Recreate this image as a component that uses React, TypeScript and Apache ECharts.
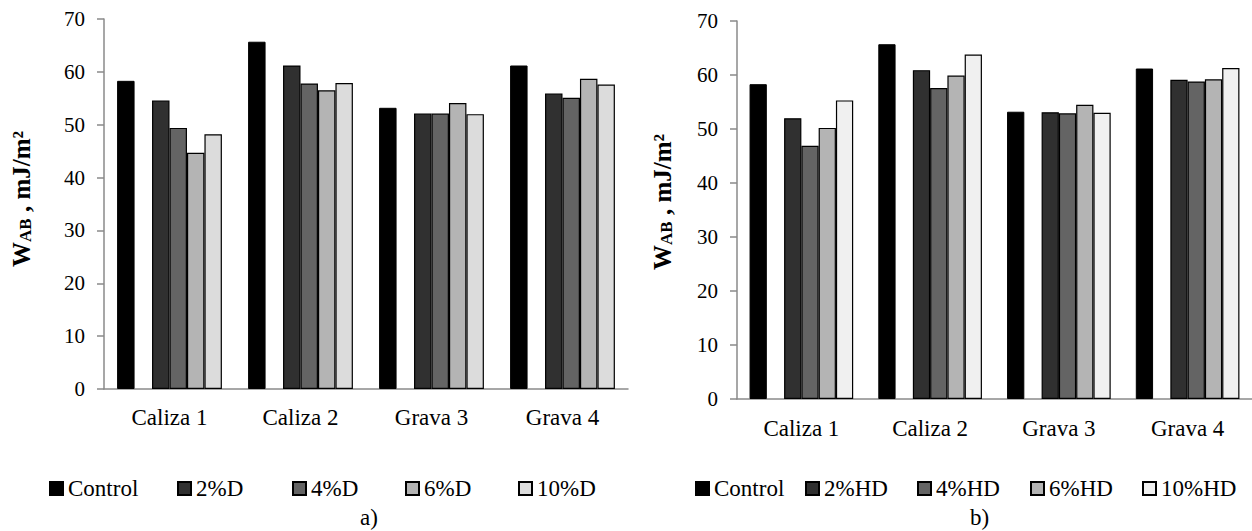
import React, { useEffect, useRef } from "react";
import * as echarts from "echarts";

const categories = ["Caliza 1", "Caliza 2", "Grava 3", "Grava 4"];
const control = [58.3, 65.7, 53.2, 61.2];

const namesA = ["2%D", "4%D", "6%D", "10%D"];
const d2 = [54.6, 61.2, 52.1, 55.9];
const d4 = [49.4, 57.8, 52.1, 55.1];
const d6 = [44.7, 56.5, 54.1, 58.7];
const d10 = [48.2, 57.9, 52.0, 57.6];

const namesB = ["2%HD", "4%HD", "6%HD", "10%HD"];
const hd2 = [52.0, 60.9, 53.1, 59.1];
const hd4 = [46.9, 57.6, 52.9, 58.8];
const hd6 = [50.2, 59.9, 54.5, 59.2];
const hd10 = [55.3, 63.8, 53.0, 61.3];

const yTicks = [0, 10, 20, 30, 40, 50, 60, 70];

const colorsA = ["#000000", "#303030", "#646464", "#b4b4b4", "#dcdcdc"];
const colorsB = ["#000000", "#303030", "#646464", "#b4b4b4", "#f0f0f0"];

const FONT = "Liberation Serif";

export default function App() {
  const ref = useRef<HTMLDivElement>(null);
  useEffect(() => {
    if (!ref.current) return;
    const chart = echarts.init(ref.current, undefined, { renderer: "svg" });

    const axisGray = "#8a8a8a";
    const mkX = (gi: number) => ({
      type: "category",
      gridIndex: gi,
      data: categories,
      axisTick: { show: false },
      axisLine: { lineStyle: { color: axisGray, width: 1.5 } },
      axisLabel: {
        formatter: (v: string) => `{t|${v}}`,
        rich: { t: { color: "#000", fontFamily: FONT, fontSize: 23 } },
        margin: gi === 0 ? 17 : 18,
      },
    });
    const mkY = (gi: number) => ({
      type: "value",
      gridIndex: gi,
      min: yTicks[0],
      max: yTicks[yTicks.length - 1],
      interval: yTicks[1] - yTicks[0],
      splitLine: { show: false },
      axisLine: { show: true, lineStyle: { color: axisGray, width: 1.5 } },
      axisTick: { show: true, length: 7, lineStyle: { color: axisGray, width: 1.5 } },
      axisLabel: {
        formatter: (v: number) => `{t|${v}}`,
        rich: { t: { color: "#000", fontFamily: FONT, fontSize: 21 } },
        margin: 19,
      },
      name: "{w|W}{s|AB}{w| , mJ/m²}",
      nameLocation: "middle",
      nameRotate: 90,
      nameGap: gi === 0 ? 70 : 62,
      nameTextStyle: {
        padding: gi === 0 ? [0, 0, 0, 10] : [0, 0, 0, 16],
        rich: {
          w: { fontFamily: FONT, fontWeight: "bold", fontSize: 25, color: "#000" },
          s: { fontFamily: FONT, fontWeight: "bold", fontSize: 17, color: "#000", padding: [9, 0, 0, 0] },
        },
      },
    });

    const mkSeries = (gi: number, names: string[], data: number[][], colors: string[], cat: string) => {
      const out: any[] = [];
      out.push({
        type: "bar",
        name: "Control",
        xAxisIndex: gi,
        yAxisIndex: gi,
        data: control,
        barGap: "0%",
        barCategoryGap: cat,
        itemStyle: { color: colors[0], borderColor: "#000", borderWidth: 1 },
      });
      out.push({
        type: "bar",
        name: "spacer" + gi,
        xAxisIndex: gi,
        yAxisIndex: gi,
        data: categories.map(() => null),
        barGap: "0%",
        barCategoryGap: cat,
        itemStyle: { color: "transparent" },
      });
      names.forEach((n, i) => {
        out.push({
          type: "bar",
          name: n,
          xAxisIndex: gi,
          yAxisIndex: gi,
          data: data[i],
          barGap: "0%",
          barCategoryGap: cat,
          itemStyle: { color: colors[i + 1], borderColor: "#000", borderWidth: 1.2 },
        });
      });
      return out;
    };

    const seriesA = mkSeries(0, namesA, [d2, d4, d6, d10], colorsA, "20%");
    const seriesB = mkSeries(1, namesB, [hd2, hd4, hd6, hd10], colorsB, "19.5%");

    const legendPosA = [44, 172, 287, 400, 513];
    const legendPosB = [690, 800, 912, 1025, 1137];
    const mkLegend = (names: string[], pos: number[]) =>
      names.map((n, i) => ({
        data: [n],
        left: pos[i],
        top: 472,
        itemWidth: 13,
        itemHeight: 13,
        icon: "rect",
        selectedMode: false,
        formatter: (name: string) => `{t|${name}}`,
        textStyle: {
          fontFamily: FONT,
          fontSize: 23,
          color: "#000",
          rich: { t: { fontFamily: FONT, fontSize: 23, color: "#000" } },
        },
      }));

    chart.setOption({
      animation: false,
      backgroundColor: "#fff",
      textStyle: { fontFamily: FONT },
      grid: [
        { left: 104, top: 19, width: 524, height: 370, containLabel: false },
        { left: 737, top: 21, width: 517, height: 378, containLabel: false },
      ],
      xAxis: [mkX(0), mkX(1)],
      yAxis: [mkY(0), mkY(1)],
      legend: [...mkLegend(["Control", ...namesA], legendPosA), ...mkLegend(["Control", ...namesB], legendPosB)],
      graphic: [
        { type: "text", left: 360, top: 506, style: { text: "a)", fontFamily: FONT, fontSize: 23, fill: "#000" } },
        { type: "text", left: 970, top: 506, style: { text: "b)", fontFamily: FONT, fontSize: 23, fill: "#000" } },
      ],
      series: [...seriesA, ...seriesB],
    });
    return () => chart.dispose();
  }, []);
  return <div ref={ref} style={{ position: "absolute", left: 0, top: 0, width: 1252, height: 531 }} />;
}
